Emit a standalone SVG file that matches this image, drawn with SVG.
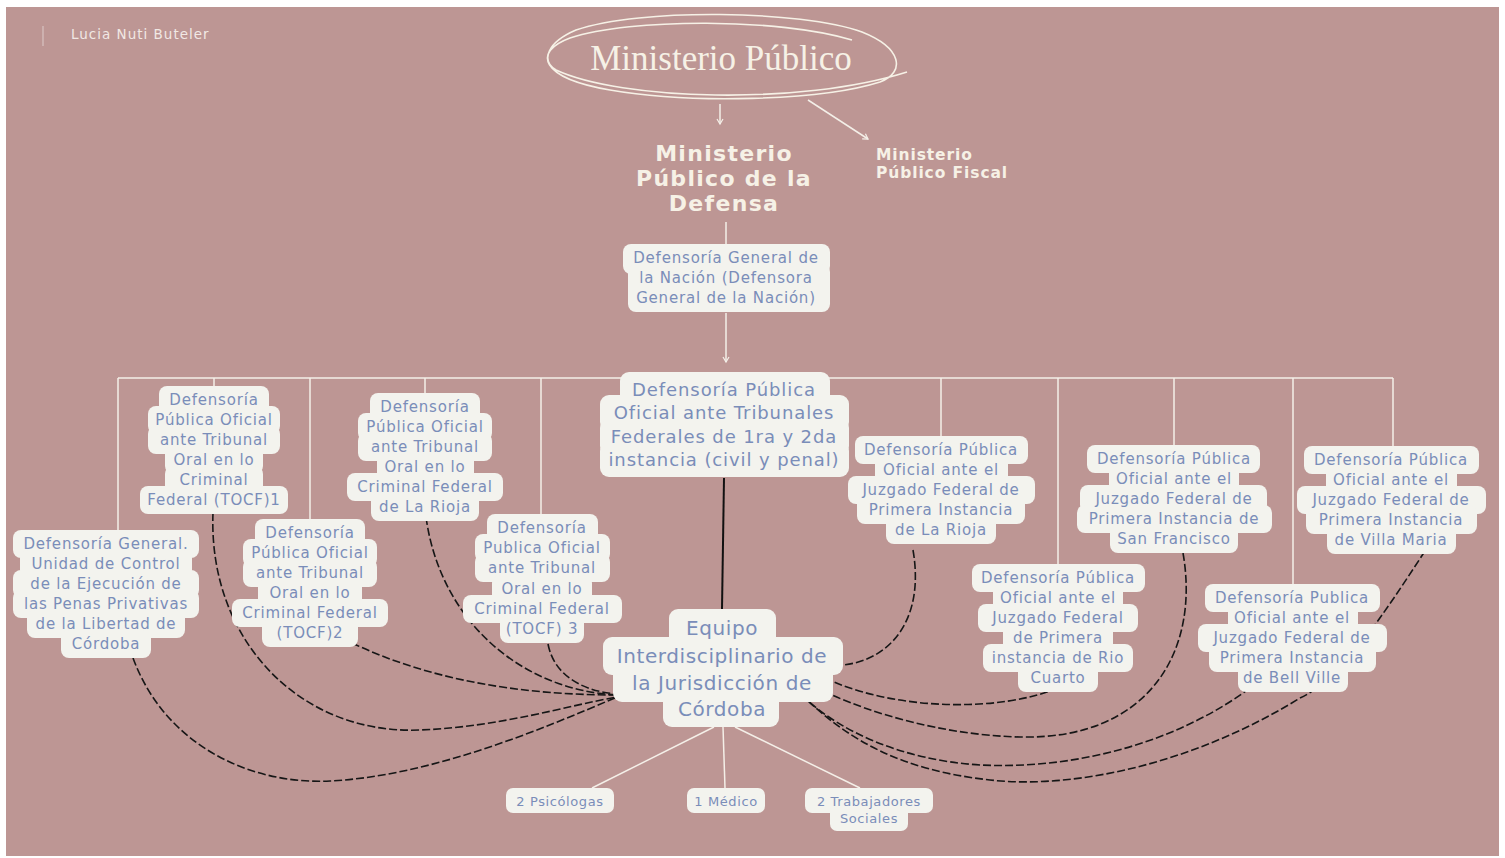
<svg xmlns="http://www.w3.org/2000/svg" width="1505" height="858" viewBox="0 0 1505 858">
<style>
.bg{fill:#BD9694}
.nb{fill:#F3F3EE}
.nt{font-family:"DejaVu Sans",sans-serif;font-size:15px;letter-spacing:0.8px;fill:#7A8DB9;text-anchor:middle}
.big{font-size:18px;letter-spacing:0.9px}
.eq{font-size:20px;letter-spacing:0.6px}
.sm{font-size:13px;letter-spacing:0.6px}
.wl{stroke:#F4EFE8;stroke-width:1.5;fill:none}
.dash{stroke:#161616;stroke-width:1.6;fill:none;stroke-dasharray:8 3}
.cream{fill:#F6F1E6;font-family:"DejaVu Sans",sans-serif;font-weight:bold}
</style>
<defs>
<marker id="ah" markerWidth="8" markerHeight="8" refX="6" refY="4" orient="auto" markerUnits="userSpaceOnUse">
<path d="M1,1 L6,4 L1,7" fill="none" stroke="#F4EFE8" stroke-width="1.2"/>
</marker>
</defs>
<rect x="0" y="0" width="1505" height="858" fill="#FFFFFF"/>
<rect class="bg" x="6" y="7" width="1493" height="849"/>

<g id="author">
<line x1="43" y1="26" x2="43" y2="46" stroke="#D8C3C1" stroke-width="1.2"/>
<text x="71" y="39" font-family="DejaVu Sans, sans-serif" font-size="13.5" letter-spacing="1" fill="#F1E8E4">Lucia Nuti Buteler</text>
</g>

<g id="title">
<path d="M852 40 C780 18,630 18,570 38 C532 52,540 78,610 90 C690 104,820 101,880 82 C906 72,902 48,862 32 C800 10,640 8,576 30 C548 42,540 60,556 70 C620 100,800 106,907 72" fill="none" stroke="#F6F1E6" stroke-width="1.6"/>
<text x="721" y="70" font-family="Liberation Serif, serif" font-size="35" fill="#F6F1E6" text-anchor="middle">Ministerio Público</text>
</g>

<g id="connectors">
<line class="wl" x1="720" y1="104" x2="720" y2="124" marker-end="url(#ah)"/>
<line class="wl" x1="808" y1="100" x2="868" y2="139" marker-end="url(#ah)"/>
<line class="wl" x1="726" y1="222" x2="726" y2="244"/>
<line class="wl" x1="726" y1="313" x2="726" y2="362" marker-end="url(#ah)"/>
<line class="wl" x1="118" y1="378" x2="1393" y2="378"/>
<line class="wl" x1="118" y1="378" x2="118" y2="530"/>
<line class="wl" x1="214" y1="378" x2="214" y2="387"/>
<line class="wl" x1="310" y1="378" x2="310" y2="519"/>
<line class="wl" x1="425" y1="378" x2="425" y2="393"/>
<line class="wl" x1="541" y1="378" x2="541" y2="514"/>
<line class="wl" x1="941" y1="378" x2="941" y2="436"/>
<line class="wl" x1="1058" y1="378" x2="1058" y2="564"/>
<line class="wl" x1="1174" y1="378" x2="1174" y2="445"/>
<line class="wl" x1="1293" y1="378" x2="1293" y2="584"/>
<line class="wl" x1="1393" y1="378" x2="1393" y2="446"/>
<line x1="724" y1="478" x2="722" y2="609" stroke="#111" stroke-width="2"/>
<line class="wl" x1="714" y1="727" x2="592" y2="788"/>
<line class="wl" x1="723" y1="727" x2="725" y2="788"/>
<line class="wl" x1="735" y1="727" x2="860" y2="788"/>
<path class="dash" d="M133 658 C165 745,250 785,330 781 C430 776,540 730,617 697"/>
<path class="dash" d="M213 513 C208 640,300 735,420 730 C500 727,570 705,617 697"/>
<path class="dash" d="M352 643 C430 680,520 695,617 695"/>
<path class="dash" d="M426 517 C440 620,520 690,617 695"/>
<path class="dash" d="M548 644 C555 680,590 692,617 694"/>
<path class="dash" d="M913 550 C925 620,890 660,843 665"/>
<path class="dash" d="M1058 688 C1000 712,900 710,834 682"/>
<path class="dash" d="M1183 553 C1200 650,1150 740,1020 737 C940 735,870 712,832 695"/>
<path class="dash" d="M1250 688 C1180 740,1080 770,980 765 C900 760,840 730,807 700"/>
<path class="dash" d="M1425 551 C1380 620,1340 680,1300 698 C1200 760,1080 790,990 780 C900 770,850 740,807 700"/>
</g>

<g id="mpd">
<text class="cream" font-size="22" letter-spacing="1.3" text-anchor="middle"><tspan x="724" y="161">Ministerio</tspan><tspan x="724" y="186">Público de la</tspan><tspan x="724" y="211">Defensa</tspan></text>
</g>

<g id="mpf">
<text class="cream" font-size="15.5" letter-spacing="0.9" text-anchor="start"><tspan x="876" y="160">Ministerio</tspan><tspan x="876" y="178">Público Fiscal</tspan></text>
</g>

<g id="dgn">
<rect class="nb" x="623" y="244" width="207" height="30" rx="8"/>
<rect class="nb" x="628" y="264" width="202" height="48" rx="8"/>
<text class="nt" x="726" y="263">Defensoría General de</text>
<text class="nt" x="726" y="283">la Nación (Defensora</text>
<text class="nt" x="726" y="303">General de la Nación)</text>
</g>

<g id="nodeA">
<rect class="nb" x="13" y="530" width="186" height="28" rx="8"/>
<rect class="nb" x="20" y="550" width="172" height="28" rx="8"/>
<rect class="nb" x="13" y="570" width="186" height="28" rx="8"/>
<rect class="nb" x="13" y="590" width="186" height="28" rx="8"/>
<rect class="nb" x="27" y="610" width="158" height="28" rx="8"/>
<rect class="nb" x="61" y="630" width="90" height="28" rx="8"/>
<text class="nt" x="106" y="549">Defensoría General.</text>
<text class="nt" x="106" y="569">Unidad de Control</text>
<text class="nt" x="106" y="589">de la Ejecución de</text>
<text class="nt" x="106" y="609">las Penas Privativas</text>
<text class="nt" x="106" y="629">de la Libertad de</text>
<text class="nt" x="106" y="649">Córdoba</text>
</g>

<g id="nodeB">
<rect class="nb" x="159" y="386" width="110" height="28" rx="8"/>
<rect class="nb" x="148" y="406" width="132" height="28" rx="8"/>
<rect class="nb" x="148" y="426" width="132" height="28" rx="8"/>
<rect class="nb" x="165" y="446" width="98" height="28" rx="8"/>
<rect class="nb" x="165" y="466" width="98" height="28" rx="8"/>
<rect class="nb" x="140" y="486" width="148" height="28" rx="8"/>
<text class="nt" x="214" y="405">Defensoría</text>
<text class="nt" x="214" y="425">Pública Oficial</text>
<text class="nt" x="214" y="445">ante Tribunal</text>
<text class="nt" x="214" y="465">Oral en lo</text>
<text class="nt" x="214" y="485">Criminal</text>
<text class="nt" x="214" y="505">Federal (TOCF)1</text>
</g>

<g id="nodeC">
<rect class="nb" x="255" y="519" width="110" height="28" rx="8"/>
<rect class="nb" x="243" y="539" width="134" height="28" rx="8"/>
<rect class="nb" x="243" y="559" width="134" height="28" rx="8"/>
<rect class="nb" x="258" y="579" width="104" height="28" rx="8"/>
<rect class="nb" x="232" y="599" width="156" height="28" rx="8"/>
<rect class="nb" x="262" y="619" width="96" height="28" rx="8"/>
<text class="nt" x="310" y="538">Defensoría</text>
<text class="nt" x="310" y="558">Pública Oficial</text>
<text class="nt" x="310" y="578">ante Tribunal</text>
<text class="nt" x="310" y="598">Oral en lo</text>
<text class="nt" x="310" y="618">Criminal Federal</text>
<text class="nt" x="310" y="638">(TOCF)2</text>
</g>

<g id="nodeD">
<rect class="nb" x="370" y="393" width="110" height="28" rx="8"/>
<rect class="nb" x="358" y="413" width="134" height="28" rx="8"/>
<rect class="nb" x="358" y="433" width="134" height="28" rx="8"/>
<rect class="nb" x="377" y="453" width="97" height="28" rx="8"/>
<rect class="nb" x="347" y="473" width="156" height="28" rx="8"/>
<rect class="nb" x="371" y="493" width="108" height="28" rx="8"/>
<text class="nt" x="425" y="412">Defensoría</text>
<text class="nt" x="425" y="432">Pública Oficial</text>
<text class="nt" x="425" y="452">ante Tribunal</text>
<text class="nt" x="425" y="472">Oral en lo</text>
<text class="nt" x="425" y="492">Criminal Federal</text>
<text class="nt" x="425" y="512">de La Rioja</text>
</g>

<g id="nodeE">
<rect class="nb" x="487" y="514" width="111" height="28" rx="8"/>
<rect class="nb" x="475" y="534" width="135" height="28" rx="8"/>
<rect class="nb" x="475" y="554" width="135" height="28" rx="8"/>
<rect class="nb" x="492" y="575" width="100" height="28" rx="8"/>
<rect class="nb" x="463" y="595" width="159" height="28" rx="8"/>
<rect class="nb" x="500" y="615" width="84" height="28" rx="8"/>
<text class="nt" x="542" y="533">Defensoría</text>
<text class="nt" x="542" y="553">Publica Oficial</text>
<text class="nt" x="542" y="573">ante Tribunal</text>
<text class="nt" x="542" y="594">Oral en lo</text>
<text class="nt" x="542" y="614">Criminal Federal</text>
<text class="nt" x="542" y="634">(TOCF) 3</text>
</g>

<g id="nodeF">
<rect class="nb" x="620" y="372" width="210" height="36" rx="9"/>
<rect class="nb" x="600" y="395" width="249" height="36" rx="9"/>
<rect class="nb" x="600" y="419" width="249" height="36" rx="9"/>
<rect class="nb" x="600" y="442" width="249" height="35" rx="9"/>
<text class="nt big" x="724" y="396">Defensoría Pública</text>
<text class="nt big" x="724" y="419">Oficial ante Tribunales</text>
<text class="nt big" x="724" y="443">Federales de 1ra y 2da</text>
<text class="nt big" x="724" y="466">instancia (civil y penal)</text>
</g>

<g id="nodeG">
<rect class="nb" x="855" y="436" width="173" height="28" rx="8"/>
<rect class="nb" x="875" y="456" width="133" height="28" rx="8"/>
<rect class="nb" x="848" y="476" width="187" height="28" rx="8"/>
<rect class="nb" x="857" y="496" width="168" height="28" rx="8"/>
<rect class="nb" x="886" y="516" width="110" height="28" rx="8"/>
<text class="nt" x="941" y="455">Defensoría Pública</text>
<text class="nt" x="941" y="475">Oficial ante el</text>
<text class="nt" x="941" y="495">Juzgado Federal de</text>
<text class="nt" x="941" y="515">Primera Instancia</text>
<text class="nt" x="941" y="535">de La Rioja</text>
</g>

<g id="nodeH">
<rect class="nb" x="972" y="564" width="173" height="28" rx="8"/>
<rect class="nb" x="993" y="584" width="130" height="28" rx="8"/>
<rect class="nb" x="978" y="604" width="160" height="28" rx="8"/>
<rect class="nb" x="1003" y="624" width="110" height="28" rx="8"/>
<rect class="nb" x="983" y="644" width="150" height="28" rx="8"/>
<rect class="nb" x="1018" y="664" width="80" height="28" rx="8"/>
<text class="nt" x="1058" y="583">Defensoría Pública</text>
<text class="nt" x="1058" y="603">Oficial ante el</text>
<text class="nt" x="1058" y="623">Juzgado Federal</text>
<text class="nt" x="1058" y="643">de Primera</text>
<text class="nt" x="1058" y="663">instancia de Rio</text>
<text class="nt" x="1058" y="683">Cuarto</text>
</g>

<g id="nodeI">
<rect class="nb" x="1087" y="445" width="173" height="28" rx="8"/>
<rect class="nb" x="1109" y="465" width="130" height="28" rx="8"/>
<rect class="nb" x="1080" y="485" width="187" height="28" rx="8"/>
<rect class="nb" x="1077" y="505" width="195" height="28" rx="8"/>
<rect class="nb" x="1110" y="525" width="128" height="28" rx="8"/>
<text class="nt" x="1174" y="464">Defensoría Pública</text>
<text class="nt" x="1174" y="484">Oficial ante el</text>
<text class="nt" x="1174" y="504">Juzgado Federal de</text>
<text class="nt" x="1174" y="524">Primera Instancia de</text>
<text class="nt" x="1174" y="544">San Francisco</text>
</g>

<g id="nodeJ">
<rect class="nb" x="1205" y="584" width="175" height="28" rx="8"/>
<rect class="nb" x="1228" y="604" width="130" height="28" rx="8"/>
<rect class="nb" x="1198" y="624" width="189" height="28" rx="8"/>
<rect class="nb" x="1209" y="644" width="167" height="28" rx="8"/>
<rect class="nb" x="1238" y="664" width="110" height="28" rx="8"/>
<text class="nt" x="1292" y="603">Defensoría Publica</text>
<text class="nt" x="1292" y="623">Oficial ante el</text>
<text class="nt" x="1292" y="643">Juzgado Federal de</text>
<text class="nt" x="1292" y="663">Primera Instancia</text>
<text class="nt" x="1292" y="683">de Bell Ville</text>
</g>

<g id="nodeK">
<rect class="nb" x="1304" y="446" width="175" height="28" rx="8"/>
<rect class="nb" x="1326" y="466" width="131" height="28" rx="8"/>
<rect class="nb" x="1297" y="486" width="189" height="28" rx="8"/>
<rect class="nb" x="1306" y="506" width="171" height="28" rx="8"/>
<rect class="nb" x="1327" y="526" width="129" height="28" rx="8"/>
<text class="nt" x="1391" y="465">Defensoría Pública</text>
<text class="nt" x="1391" y="485">Oficial ante el</text>
<text class="nt" x="1391" y="505">Juzgado Federal de</text>
<text class="nt" x="1391" y="525">Primera Instancia</text>
<text class="nt" x="1391" y="545">de Villa Maria</text>
</g>

<g id="nodeL">
<rect class="nb" x="669" y="609" width="107" height="38" rx="9"/>
<rect class="nb" x="603" y="637" width="240" height="38" rx="9"/>
<rect class="nb" x="613" y="664" width="220" height="38" rx="9"/>
<rect class="nb" x="663" y="690" width="116" height="37" rx="9"/>
<text class="nt eq" x="722" y="635">Equipo</text>
<text class="nt eq" x="722" y="663">Interdisciplinario de</text>
<text class="nt eq" x="722" y="690">la Jurisdicción de</text>
<text class="nt eq" x="722" y="716">Córdoba</text>
</g>

<g id="nodeM">
<rect class="nb" x="506" y="788" width="108" height="25" rx="7"/>
<text class="nt sm" x="560" y="806">2 Psicólogas</text>
</g>

<g id="nodeN">
<rect class="nb" x="687" y="788" width="78" height="25" rx="7"/>
<text class="nt sm" x="726" y="806">1 Médico</text>
</g>

<g id="nodeO">
<rect class="nb" x="805" y="788" width="128" height="25" rx="7"/>
<rect class="nb" x="830" y="805" width="78" height="26" rx="7"/>
<text class="nt sm" x="869" y="806">2 Trabajadores</text>
<text class="nt sm" x="869" y="823">Sociales</text>
</g>
</svg>
